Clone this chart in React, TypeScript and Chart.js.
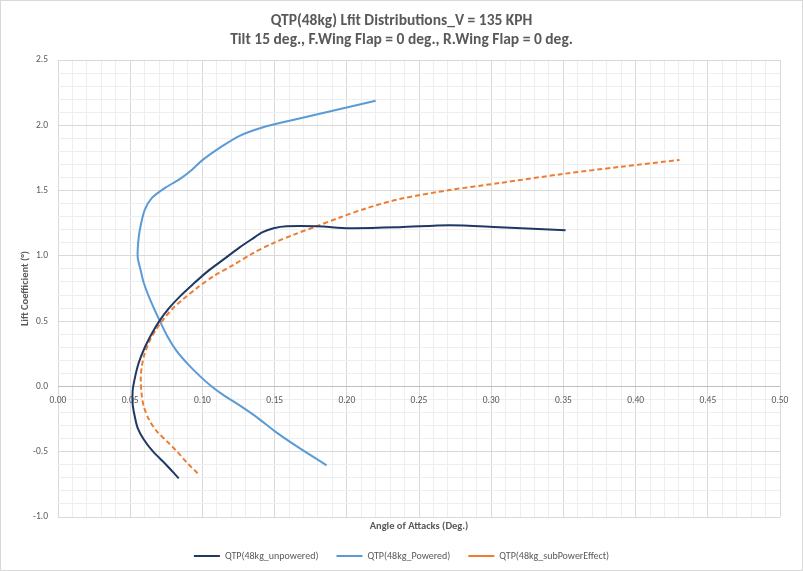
import React, { useEffect, useRef } from 'react';
import { Chart, registerables } from 'chart.js';

Chart.register(...registerables);

const TITLE_LINES = [
  'QTP(48kg) Lfit Distributions_V = 135 KPH',
  'Tilt 15 deg., F.Wing Flap = 0 deg., R.Wing Flap = 0 deg.',
];
const X_TITLE = 'Angle of Attacks (Deg.)';
const Y_TITLE = 'Lift Coefficient (°)';

const SERIES_NAMES = ['QTP(48kg_unpowered)', 'QTP(48kg_Powered)', 'QTP(48kg_subPowerEffect)'];

const unpoweredX = [0.0836, 0.0746, 0.0656, 0.0593, 0.0552, 0.0531, 0.0517, 0.0517, 0.0531, 0.0559, 0.0600, 0.0649, 0.0704, 0.0766, 0.0843, 0.0933, 0.1036, 0.1147, 0.1258, 0.1341, 0.1417, 0.1493, 0.1583, 0.1791, 0.2019, 0.2365, 0.2712, 0.3058, 0.3515];
const unpoweredY = [-0.704, -0.596, -0.496, -0.404, -0.319, -0.227, -0.135, -0.035, 0.058, 0.181, 0.296, 0.404, 0.504, 0.596, 0.688, 0.781, 0.881, 0.973, 1.065, 1.127, 1.181, 1.212, 1.227, 1.227, 1.212, 1.219, 1.235, 1.219, 1.196];

const poweredX = [0.1860, 0.1673, 0.1500, 0.1376, 0.1258, 0.1154, 0.1064, 0.0981, 0.0898, 0.0821, 0.0759, 0.0704, 0.0635, 0.0593, 0.0573, 0.0552, 0.0555, 0.0566, 0.0600, 0.0649, 0.0739, 0.0843, 0.0926, 0.1002, 0.1119, 0.1258, 0.1410, 0.1604, 0.1902, 0.2200];
const poweredY = [-0.604, -0.473, -0.342, -0.235, -0.145, -0.072, 0.000, 0.081, 0.173, 0.273, 0.381, 0.504, 0.673, 0.796, 0.888, 0.988, 1.096, 1.196, 1.350, 1.442, 1.519, 1.588, 1.658, 1.735, 1.827, 1.919, 1.981, 2.035, 2.112, 2.188];

const subPowerX = [0.0967, 0.0891, 0.0822, 0.0753, 0.0683, 0.0628, 0.0593, 0.0579, 0.0573, 0.0579, 0.0600, 0.0635, 0.0683, 0.0739, 0.0801, 0.0863, 0.0967, 0.1085, 0.1210, 0.1348, 0.1487, 0.1639, 0.1791, 0.1957, 0.2137, 0.2365, 0.2712, 0.3058, 0.3494, 0.3888, 0.4304];
const subPowerY = [-0.665, -0.581, -0.496, -0.419, -0.342, -0.250, -0.150, -0.058, 0.042, 0.142, 0.250, 0.350, 0.442, 0.527, 0.604, 0.665, 0.758, 0.850, 0.927, 1.019, 1.096, 1.165, 1.227, 1.296, 1.365, 1.435, 1.504, 1.558, 1.627, 1.681, 1.735];

const X_MIN = 0, X_MAX = 0.5, X_MAJOR = 0.05, X_MINOR = 0.01;
const Y_MIN = -1, Y_MAX = 2.5, Y_MINOR = 0.1;

const FONT = 'Carlito, Lato, "Liberation Sans", sans-serif';
const TEXT = '#595959';
const GRID_MAJOR = '#D9D9D9';
const GRID_MINOR = '#EEEEEE';
const AXIS_LINE = '#BFBFBF';

const pts = (xs: number[], ys: number[]) => xs.map((x, i) => ({ x, y: ys[i] }));

const borderPlugin = {
  id: 'outerBorder',
  afterDraw(chart: any) {
    const { ctx, width, height } = chart;
    ctx.save();
    ctx.strokeStyle = '#D9D9D9';
    ctx.lineWidth = 1;
    ctx.strokeRect(0.5, 0.5, width - 1, height - 1);
    ctx.restore();
  },
};

export default function App() {
  const ref = useRef<HTMLCanvasElement>(null);
  useEffect(() => {
    document.body.style.margin = '0';
    const common = { showLine: true, pointRadius: 0, pointHoverRadius: 0, borderWidth: 2, tension: 0.3, pointStyle: 'line', fill: false };
    const chart = new Chart(ref.current as HTMLCanvasElement, {
      type: 'scatter',
      data: {
        datasets: [
          { ...common, label: SERIES_NAMES[0], data: pts(unpoweredX, unpoweredY), borderColor: '#203864', backgroundColor: '#203864' },
          { ...common, label: SERIES_NAMES[1], data: pts(poweredX, poweredY), borderColor: '#5B9BD5', backgroundColor: '#5B9BD5' },
          { ...common, label: SERIES_NAMES[2], data: pts(subPowerX, subPowerY), borderColor: '#ED7D31', backgroundColor: '#ED7D31', borderDash: [5, 3] },
        ] as any,
      },
      options: {
        responsive: false,
        animation: false,
        devicePixelRatio: 1,
        layout: { padding: { left: 0, right: 0, top: 0, bottom: 0 } },
        plugins: {
          title: {
            display: true,
            text: TITLE_LINES,
            color: TEXT,
            font: { family: FONT, size: 15.5, weight: 'bold', lineHeight: 1.226 },
            padding: { top: 11.5, bottom: 10.5 },
          },
          legend: {
            position: 'bottom',
            labels: {
              usePointStyle: true,
              pointStyleWidth: 26,
              boxHeight: 10,
              color: TEXT,
              font: { family: FONT, size: 10 },
              padding: 18,
            },
          },
          tooltip: { enabled: false },
        },
        scales: {
          x: {
            type: 'linear',
            position: 'bottom',
            min: X_MIN,
            max: X_MAX,
            ticks: { display: false, stepSize: X_MINOR, autoSkip: false },
            grid: {
              drawTicks: false,
              color: (c: any) => {
                const v = c.tick ? c.tick.value : 0;
                return Math.abs(Math.round(v / X_MINOR) % Math.round(X_MAJOR / X_MINOR)) === 0 ? GRID_MAJOR : GRID_MINOR;
              },
            },
            border: { display: false },
            title: {
              display: true,
              text: X_TITLE,
              color: TEXT,
              font: { family: FONT, size: 10.5, weight: 'bold' },
              padding: { top: 0, bottom: 0 },
            },
            afterFit: (s: any) => { s.height = 16; },
          },
          x2: {
            type: 'linear',
            axis: 'x',
            position: { y: 0 },
            min: X_MIN,
            max: X_MAX,
            ticks: {
              stepSize: X_MAJOR,
              autoSkip: false,
              color: TEXT,
              font: { family: FONT, size: 9.5 },
              padding: 8,
              callback: (v: any) => Number(v).toFixed(2),
            },
            grid: { display: false, drawTicks: false },
            border: { display: false },
          },
          y: {
            type: 'linear',
            position: 'left',
            min: Y_MIN,
            max: Y_MAX,
            ticks: {
              stepSize: Y_MINOR,
              autoSkip: false,
              color: TEXT,
              font: { family: FONT, size: 9.5 },
              padding: 10,
              callback: (v: any) => (Math.abs(Math.round(Number(v) * 10) % 5) === 0 ? Number(v).toFixed(1) : ''),
            },
            grid: {
              drawTicks: false,
              color: (c: any) => {
                const v = c.tick ? c.tick.value : 1;
                if (Math.abs(v) < 1e-9) return AXIS_LINE;
                return Math.abs(Math.round(v * 10) % 5) === 0 ? GRID_MAJOR : GRID_MINOR;
              },
            },
            border: { display: false },
            title: {
              display: true,
              text: Y_TITLE,
              color: TEXT,
              font: { family: FONT, size: 10.5, weight: 'bold' },
              padding: { top: 19, bottom: 0 },
            },
            afterFit: (s: any) => { s.width = 58; },
          },
          yRightSpace: {
            type: 'linear',
            axis: 'y',
            position: 'right',
            min: Y_MIN,
            max: Y_MAX,
            ticks: { display: false },
            grid: { display: false, drawTicks: false },
            border: { display: false },
            afterFit: (s: any) => { s.width = 23; },
          },
        } as any,
      },
      plugins: [borderPlugin],
    });
    return () => chart.destroy();
  }, []);
  return (
    <div style={{ width: 803, height: 571 }}>
      <canvas ref={ref} width={803} height={571} style={{ display: 'block' }} />
    </div>
  );
}
